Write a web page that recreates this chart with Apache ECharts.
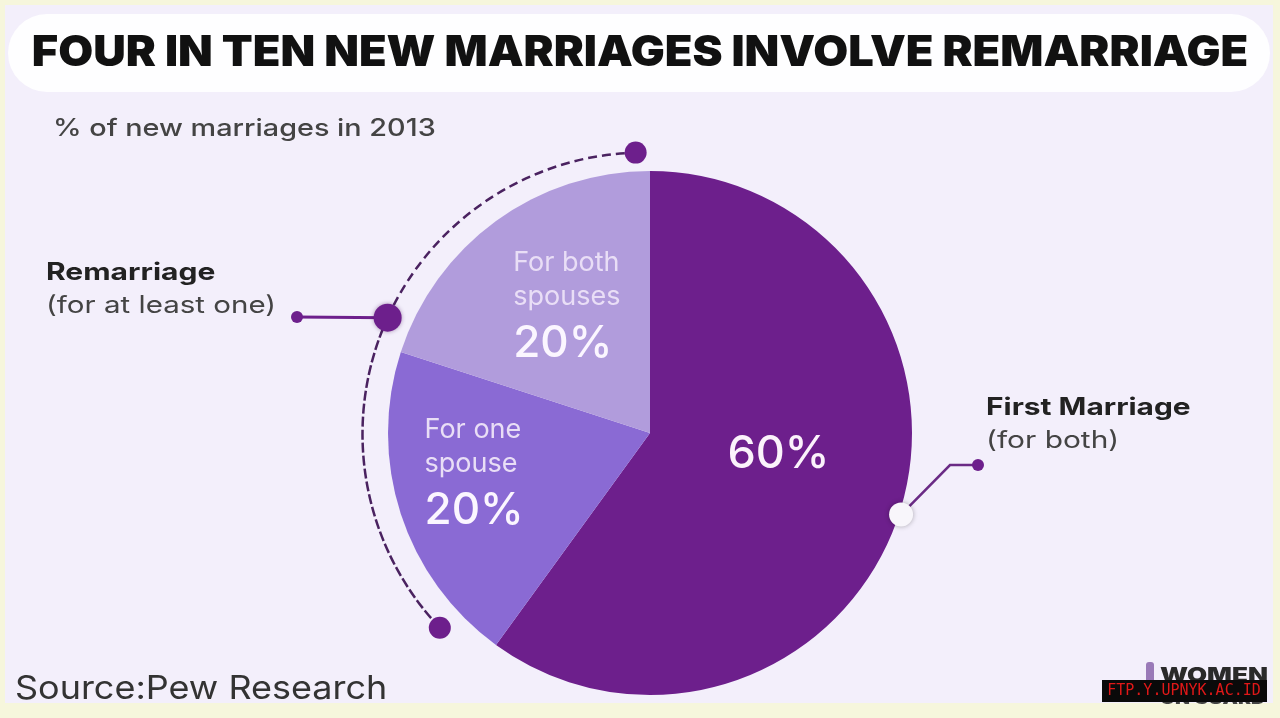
<!DOCTYPE html>
<html><head><meta charset="utf-8">
<script src="https://cdn.jsdelivr.net/npm/echarts@6/dist/echarts.min.js"></script>
<style>html,body{margin:0;padding:0;background:#f6f6dc}#c{width:1280px;height:718px}</style>
</head><body><div id="c"></div>
<script>
// ---- data ----
const categories = ['First Marriage (for both)', 'For one spouse', 'For both spouses'];
const values = [60, 20, 20];
const sliceLabelLines = [[], ['For one', 'spouse'], ['For both', 'spouses']];
const titleText = 'FOUR IN TEN NEW MARRIAGES INVOLVE REMARRIAGE';
const subtitleText = '% of new marriages in 2013';
const sourceText = 'Source:Pew Research';

// ---- layout / style ----
const FONT = 'Inter, "Noto Sans", sans-serif';
const CX = 650, CY = 433, R = 262;
const colors = ['#6d1f8c', '#8a6ad4', '#b19cdc'];
const ACX = 644, ACY = 434, AR = 281.5;
const deg = Math.PI / 180;
const aTop = 268.3, aMid = 204.4, aBot = 136.5;
function onArc(a){ return [ACX + AR * Math.cos(a*deg), ACY + AR * Math.sin(a*deg)]; }
const pTop = onArc(aTop), pMid = onArc(aMid), pBot = onArc(aBot);
const aWhite = 18;
const pWhite = [CX + (R+2) * Math.cos(aWhite*deg), CY + (R+2) * Math.sin(aWhite*deg)];

const labelShift = [[-50, -20], [-98, 2], [-58, -15]];

const chart = echarts.init(document.getElementById('c'));
chart.setOption({
  backgroundColor: '#f6f6dc',
  animation: false,
  graphic: [
    { type: 'rect', z: -10, shape: { x: 5, y: 5, width: 1268, height: 698 }, style: { fill: '#f3effb' } },
    { type: 'rect', z: -9, shape: { x: 8, y: 14, width: 1262, height: 78, r: 39 }, style: { fill: '#fefeff' } },
    { type: 'text', x: 640, y: 53, scaleX: 1.075, style: { text: titleText, font: '900 42px ' + FONT, fill: '#111', align: 'center', verticalAlign: 'middle' } },
    { type: 'text', x: 53, y: 129, scaleX: 1.2, style: { text: subtitleText, font: '500 24px ' + FONT, fill: '#444', verticalAlign: 'middle' } },
    { type: 'text', x: 46, y: 273, scaleX: 1.25, style: { text: 'Remarriage', font: '700 24px ' + FONT, fill: '#222', verticalAlign: 'middle' } },
    { type: 'text', x: 46, y: 306, scaleX: 1.23, style: { text: '(for at least one)', font: '400 24px ' + FONT, fill: '#444', verticalAlign: 'middle' } },
    { type: 'text', x: 986, y: 408, scaleX: 1.245, style: { text: 'First Marriage', font: '700 24px ' + FONT, fill: '#222', verticalAlign: 'middle' } },
    { type: 'text', x: 986, y: 441, scaleX: 1.245, style: { text: '(for both)', font: '400 24px ' + FONT, fill: '#444', verticalAlign: 'middle' } },
    { type: 'text', x: 15, y: 689, scaleX: 1.09, style: { text: sourceText, font: '400 33px ' + FONT, fill: '#333', verticalAlign: 'middle' } },
    // dashed arc (remarriage bracket)
    { type: 'arc', z: 5, shape: { cx: ACX, cy: ACY, r: AR, startAngle: aMid*deg, endAngle: aTop*deg, clockwise: true },
      style: { stroke: '#4a2260', lineWidth: 2.5, lineDash: [9, 5], fill: null } },
    { type: 'arc', z: 5, shape: { cx: ACX, cy: ACY, r: AR, startAngle: aBot*deg, endAngle: aMid*deg, clockwise: true },
      style: { stroke: '#4a2260', lineWidth: 2.5, lineDash: [10, 3], fill: null } },
    { type: 'circle', z: 6, shape: { cx: pTop[0], cy: pTop[1], r: 11 }, style: { fill: '#6d1f8c' } },
    { type: 'circle', z: 6, shape: { cx: pBot[0], cy: pBot[1], r: 11 }, style: { fill: '#6d1f8c' } },
    { type: 'line', z: 5, shape: { x1: 297, y1: 317, x2: pMid[0], y2: pMid[1] }, style: { stroke: '#6d1f8c', lineWidth: 3 } },
    { type: 'circle', z: 6, shape: { cx: 297, cy: 317, r: 6 }, style: { fill: '#6d1f8c' } },
    { type: 'circle', z: 7, shape: { cx: pMid[0], cy: pMid[1], r: 14 }, style: { fill: '#6d1f8c', shadowBlur: 4, shadowColor: 'rgba(60,0,80,0.4)' } },
    // first marriage pointer
    { type: 'polyline', z: 5, shape: { points: [[pWhite[0], pWhite[1]], [950, 465], [978, 465]] }, style: { stroke: '#6a2a85', lineWidth: 2.5, fill: null } },
    { type: 'circle', z: 6, shape: { cx: 978, cy: 465, r: 6 }, style: { fill: '#6d1f8c' } },
    { type: 'circle', z: 7, shape: { cx: pWhite[0], cy: pWhite[1], r: 12 }, style: { fill: '#f8f6fb', shadowBlur: 5, shadowColor: 'rgba(0,0,0,0.3)' } },
    // logo
    { type: 'text', x: 1160, y: 676, scaleX: 1.3, style: { text: 'WOMEN', font: '900 20px ' + FONT, fill: '#2a2a2a', verticalAlign: 'middle' } },
    { type: 'text', x: 1160, y: 699, scaleX: 1.3, style: { text: 'ON GUARD', font: '900 15px ' + FONT, fill: '#444', verticalAlign: 'middle' } },
    { type: 'rect', shape: { x: 1146, y: 662, width: 8, height: 26, r: 3 }, style: { fill: '#9a7ab8' } },
    // watermark
    { type: 'rect', z: 20, shape: { x: 1102, y: 680, width: 165, height: 22 }, style: { fill: '#0a0a0a' } },
    { type: 'text', z: 21, x: 1184, y: 691, style: { text: 'FTP.Y.UPNYK.AC.ID', font: '15px "DejaVu Sans Mono", monospace', fill: '#e01818', align: 'center', verticalAlign: 'middle' } }
  ],
  series: [{
    type: 'pie',
    center: [CX, CY],
    radius: R,
    startAngle: 90,
    clockwise: true,
    silent: true,
    itemStyle: { borderWidth: 0 },
    labelLine: { show: false },
    label: {
      show: true,
      position: 'inside',
      align: 'left',
      formatter: function (p) {
        const lines = sliceLabelLines[p.dataIndex].map(t => '{txt|' + t + '}');
        lines.push((p.dataIndex === 0 ? '{big|' : '{pct|') + p.value + '%}');
        return lines.join('\n');
      },
      rich: {
        txt: { fontFamily: FONT, fontSize: 27, fontWeight: 400, color: '#e9def6', lineHeight: 34, align: 'left' },
        pct: { fontFamily: FONT, fontSize: 44, fontWeight: 500, color: '#fbf6ff', lineHeight: 60, align: 'left' },
        big: { fontFamily: FONT, fontSize: 45, fontWeight: 500, color: '#fbf2fb', lineHeight: 60, align: 'left' }
      }
    },
    labelLayout: function (params) {
      const s = labelShift[params.dataIndex];
      return { dx: s[0], dy: s[1], align: 'left', verticalAlign: 'middle' };
    },
    data: categories.map((c, i) => ({ name: c, value: values[i], itemStyle: { color: colors[i] } }))
  }]
});
</script></body></html>
